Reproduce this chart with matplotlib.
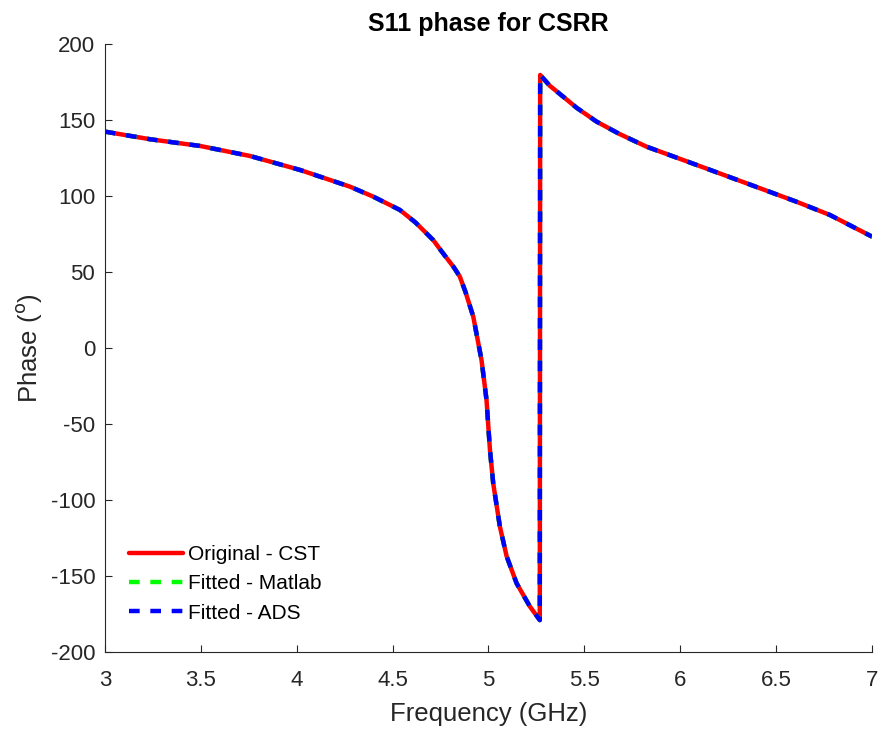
import matplotlib
matplotlib.use("Agg")
import matplotlib.pyplot as plt

plt.rcParams['font.family'] = ['Liberation Sans', 'DejaVu Sans']
plt.rcParams['axes.unicode_minus'] = False

# values
freq = [3.0, 3.235, 3.495, 3.756, 4.017, 4.278, 4.4, 4.538, 4.62, 4.712, 4.75,
        4.79, 4.82, 4.851, 4.88, 4.921, 4.964, 4.99, 5.008, 5.025, 5.06, 5.095,
        5.147, 5.216, 5.268, 5.27, 5.32, 5.39, 5.46, 5.564, 5.68, 5.825, 6.086,
        6.347, 6.607, 6.781, 7.0]
phase_cst = [142.3, 137.3, 132.9, 126.3, 117.1, 106.1, 99.5, 90.8, 82.5, 71.0, 64.5,
             57.9, 53.0, 46.9, 37.0, 20.6, -7.9, -34.0, -67.0, -89.0, -117.6, -137.0,
             -154.8, -170.0, -179.0, 179.6, 172.5, 165.3, 158.0, 148.9, 141.0, 132.4, 120.4,
             108.3, 96.2, 87.5, 73.3]
phase_matlab = list(phase_cst)
phase_ads = list(phase_cst)

labels = ['Original - CST', 'Fitted - Matlab', 'Fitted - ADS']

fig = plt.figure(figsize=(8.86, 7.32), dpi=100)
ax = fig.add_axes([0.1185, 0.1093, 0.8655, 0.8307])

ax.plot(freq, phase_cst, color='#ff0000', lw=3.2, label=labels[0],
        solid_capstyle='round', solid_joinstyle='round')
ax.plot(freq, phase_matlab, color='#00ff00', lw=3.2, dashes=(2.4, 2.4), label=labels[1])
ax.plot(freq, phase_ads, color='#0000ff', lw=3.2, dashes=(2.4, 2.4), label=labels[2])

ax.set_xlim(3, 7)
ax.set_ylim(-200, 200)
ax.set_xticks([3, 3.5, 4, 4.5, 5, 5.5, 6, 6.5, 7])
ax.set_xticklabels(['3', '3.5', '4', '4.5', '5', '5.5', '6', '6.5', '7'])
ax.set_yticks(range(-200, 201, 50))

for s in ['top', 'right']:
    ax.spines[s].set_visible(False)
for s in ['left', 'bottom']:
    ax.spines[s].set_color('#262626')
    ax.spines[s].set_linewidth(0.8)
ax.tick_params(direction='in', length=5, width=0.8, colors='#262626', labelsize=16)
ax.tick_params(axis='x', pad=13)
ax.tick_params(axis='y', pad=7)

ax.set_xlabel('Frequency (GHz)', fontsize=18.5, color='#262626', labelpad=8)
ax.set_ylabel('Phase ($^{\\rm o}$)', fontsize=18.5, color='#262626', labelpad=5)
ax.set_title('S11 phase for CSRR', fontsize=18, fontweight='bold', pad=9)

ax.legend(loc='upper left', bbox_to_anchor=(0.021, 0.19), borderaxespad=0,
          frameon=False, fontsize=15, handlelength=2.55, handletextpad=0.25,
          labelspacing=0.5)

fig.savefig('out.png', dpi=100)
